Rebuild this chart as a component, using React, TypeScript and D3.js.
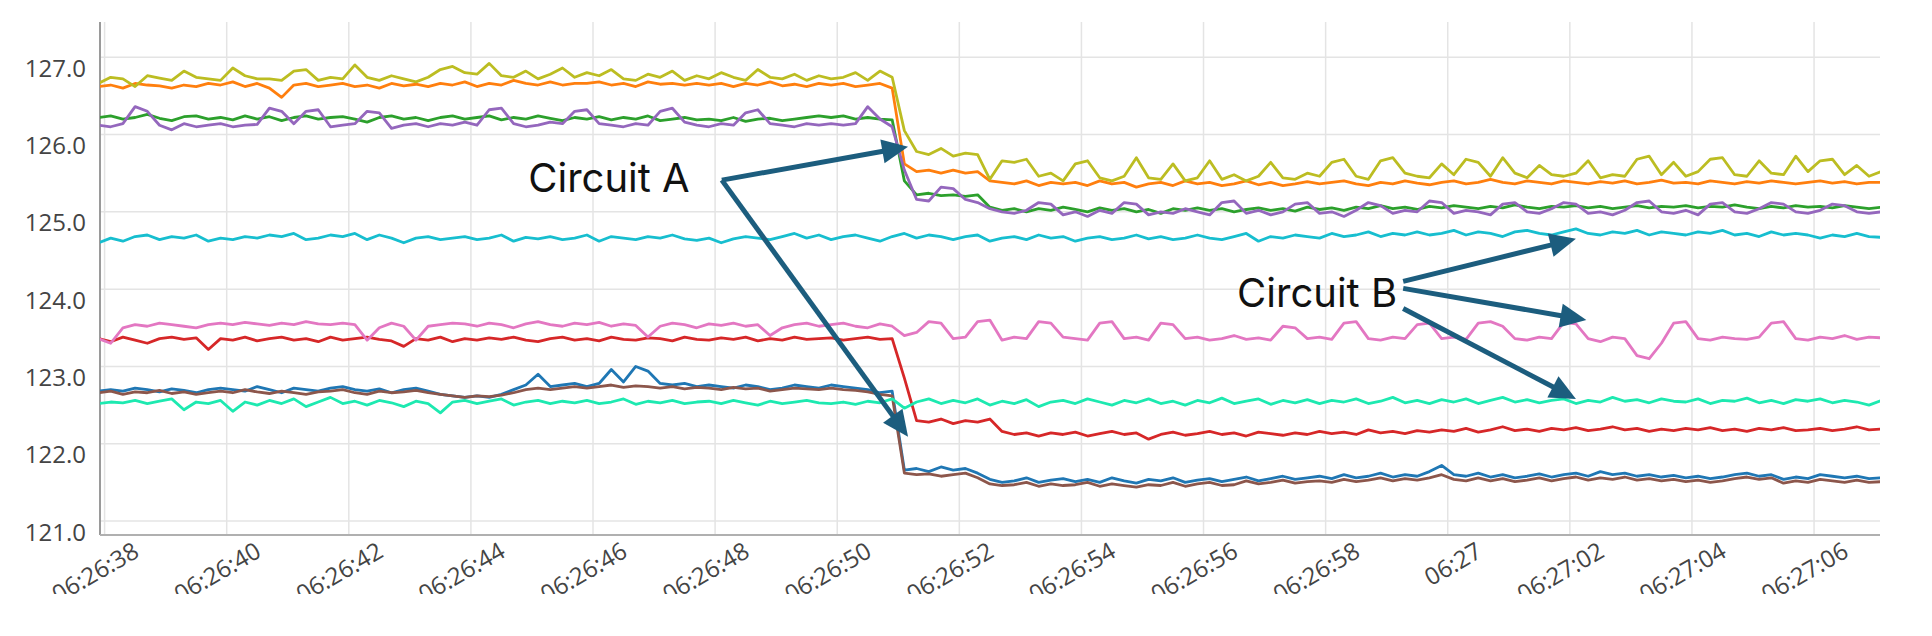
import React from 'react';
import * as d3 from 'd3';

// sample grid: seconds after 06:26:00, one reading every 0.2 s
const SAMPLE_START = 37.9;
const SAMPLE_STEP = 0.2;

const olive = [
  126.66,126.74,126.72,126.62,126.76,126.73,126.70,126.82,126.74,126.72,
  126.70,126.86,126.76,126.72,126.72,126.70,126.82,126.84,126.70,126.74,
  126.72,126.90,126.74,126.70,126.76,126.72,126.68,126.74,126.84,126.88,
  126.80,126.78,126.92,126.76,126.74,126.82,126.72,126.78,126.86,126.74,
  126.80,126.76,126.84,126.72,126.70,126.78,126.74,126.82,126.70,126.76,
  126.72,126.80,126.74,126.70,126.84,126.74,126.72,126.78,126.70,126.76,
  126.72,126.74,126.80,126.70,126.82,126.74,126.05,125.78,125.74,125.82,
  125.72,125.76,125.74,125.42,125.66,125.64,125.68,125.46,125.50,125.40,
  125.62,125.66,125.44,125.40,125.46,125.70,125.44,125.42,125.62,125.40,
  125.44,125.66,125.42,125.48,125.40,125.46,125.64,125.44,125.42,125.50,
  125.46,125.64,125.68,125.46,125.42,125.66,125.70,125.50,125.46,125.44,
  125.62,125.48,125.68,125.64,125.46,125.70,125.50,125.44,125.60,125.48,
  125.46,125.50,125.66,125.44,125.48,125.46,125.68,125.72,125.48,125.64,
  125.46,125.52,125.68,125.70,125.48,125.46,125.66,125.50,125.48,125.72,
  125.52,125.66,125.68,125.48,125.60,125.46,125.52,
];

const orange = [
  126.62,126.64,126.60,126.66,126.64,126.63,126.60,126.64,126.62,126.66,
  126.64,126.68,126.62,126.66,126.60,126.48,126.64,126.66,126.62,126.64,
  126.66,126.62,126.64,126.60,126.66,126.63,126.65,126.62,126.66,126.64,
  126.68,126.62,126.66,126.64,126.70,126.66,126.64,126.68,126.64,126.66,
  126.66,126.68,126.64,126.66,126.62,126.68,126.65,126.66,126.64,126.66,
  126.64,126.66,126.62,126.66,126.64,126.68,126.63,126.65,126.62,126.66,
  126.64,126.66,126.62,126.64,126.66,126.60,125.62,125.52,125.54,125.50,
  125.54,125.50,125.52,125.40,125.38,125.36,125.40,125.34,125.38,125.36,
  125.38,125.34,125.40,125.36,125.38,125.32,125.36,125.38,125.34,125.40,
  125.36,125.38,125.34,125.36,125.40,125.35,125.38,125.34,125.36,125.39,
  125.36,125.38,125.40,125.36,125.34,125.38,125.36,125.40,125.37,125.35,
  125.38,125.40,125.36,125.38,125.42,125.38,125.36,125.40,125.38,125.36,
  125.40,125.38,125.36,125.39,125.37,125.40,125.36,125.38,125.41,125.37,
  125.38,125.36,125.40,125.38,125.36,125.39,125.37,125.40,125.38,125.36,
  125.38,125.40,125.37,125.39,125.36,125.38,125.38,
];

const green = [
  126.22,126.24,126.20,126.22,126.26,126.21,126.18,126.23,126.24,126.20,
  126.22,126.19,126.24,126.20,126.23,126.18,126.22,126.24,126.20,126.22,
  126.23,126.20,126.16,126.22,126.24,126.20,126.22,126.18,126.22,126.24,
  126.20,126.22,126.24,126.19,126.22,126.20,126.24,126.21,126.18,126.22,
  126.20,126.23,126.19,126.22,126.20,126.24,126.18,126.20,126.22,126.19,
  126.20,126.18,126.22,126.17,126.20,126.21,126.18,126.20,126.22,126.24,
  126.22,126.24,126.20,126.22,126.20,126.19,125.40,125.22,125.24,125.21,
  125.22,125.20,125.22,125.06,125.02,125.04,125.00,125.04,125.02,125.06,
  125.03,125.00,125.05,125.02,125.04,125.00,125.03,124.98,125.04,125.02,
  125.05,125.02,125.04,125.00,125.03,125.05,125.02,125.04,125.01,125.06,
  125.03,125.05,125.02,125.06,125.04,125.08,125.04,125.06,125.03,125.07,
  125.05,125.08,125.06,125.04,125.07,125.05,125.09,125.06,125.04,125.07,
  125.06,125.08,125.05,125.07,125.04,125.06,125.08,125.05,125.07,125.06,
  125.08,125.05,125.07,125.06,125.09,125.06,125.04,125.07,125.05,125.08,
  125.06,125.07,125.05,125.08,125.06,125.04,125.06,
];

const purple = [
  126.12,126.10,126.14,126.36,126.30,126.12,126.06,126.14,126.10,126.12,
  126.14,126.10,126.12,126.13,126.34,126.30,126.14,126.30,126.32,126.10,
  126.12,126.14,126.30,126.28,126.08,126.12,126.14,126.10,126.14,126.12,
  126.16,126.12,126.32,126.34,126.14,126.10,126.12,126.16,126.14,126.30,
  126.32,126.14,126.12,126.10,126.14,126.12,126.30,126.34,126.16,126.12,
  126.10,126.14,126.12,126.28,126.32,126.14,126.12,126.10,126.14,126.12,
  126.14,126.12,126.14,126.36,126.20,126.10,125.54,125.16,125.14,125.32,
  125.30,125.16,125.12,125.04,125.00,124.98,125.02,125.12,125.10,124.96,
  125.00,124.94,125.02,124.98,125.12,125.10,124.96,125.00,124.98,125.04,
  125.00,124.96,125.12,125.14,124.98,125.02,124.96,125.00,125.10,125.12,
  124.98,125.00,124.94,125.02,125.12,125.08,124.98,125.02,125.00,125.14,
  125.12,124.98,125.02,125.00,124.96,125.10,125.12,125.00,124.98,125.04,
  125.12,125.10,124.98,125.00,124.96,125.02,125.12,125.14,125.00,124.98,
  125.02,124.96,125.10,125.12,125.00,124.98,125.04,125.12,125.10,125.00,
  124.98,125.02,125.10,125.08,125.00,124.98,125.00,
];

const cyan = [
  124.60,124.66,124.62,124.68,124.70,124.64,124.68,124.66,124.70,124.62,
  124.66,124.64,124.68,124.66,124.70,124.68,124.72,124.64,124.66,124.70,
  124.68,124.72,124.64,124.70,124.66,124.60,124.66,124.68,124.64,124.66,
  124.68,124.64,124.66,124.70,124.62,124.67,124.65,124.68,124.64,124.66,
  124.70,124.62,124.68,124.66,124.64,124.68,124.66,124.70,124.65,124.63,
  124.66,124.60,124.65,124.68,124.66,124.64,124.68,124.72,124.66,124.70,
  124.64,124.68,124.70,124.66,124.62,124.68,124.72,124.66,124.70,124.68,
  124.64,124.68,124.70,124.62,124.66,124.68,124.64,124.70,124.66,124.68,
  124.62,124.66,124.68,124.64,124.66,124.70,124.65,124.68,124.64,124.66,
  124.70,124.66,124.64,124.68,124.72,124.62,124.68,124.66,124.70,124.68,
  124.66,124.72,124.68,124.70,124.74,124.68,124.72,124.70,124.74,124.70,
  124.72,124.76,124.70,124.74,124.72,124.68,124.74,124.76,124.72,124.70,
  124.74,124.78,124.72,124.70,124.74,124.72,124.76,124.70,124.74,124.72,
  124.70,124.74,124.72,124.76,124.70,124.72,124.68,124.74,124.70,124.72,
  124.70,124.66,124.70,124.68,124.72,124.68,124.67,
];

const pink = [
  123.36,123.30,123.50,123.54,123.52,123.56,123.54,123.52,123.50,123.54,
  123.56,123.54,123.57,123.55,123.53,123.56,123.54,123.58,123.55,123.54,
  123.56,123.54,123.34,123.50,123.56,123.52,123.34,123.52,123.54,123.56,
  123.55,123.52,123.56,123.54,123.50,123.55,123.58,123.54,123.52,123.56,
  123.54,123.57,123.52,123.55,123.53,123.38,123.52,123.56,123.54,123.50,
  123.55,123.53,123.56,123.52,123.54,123.40,123.50,123.54,123.56,123.52,
  123.54,123.56,123.52,123.50,123.55,123.52,123.40,123.44,123.58,123.56,
  123.36,123.38,123.58,123.60,123.34,123.38,123.36,123.58,123.56,123.38,
  123.36,123.34,123.56,123.58,123.36,123.38,123.34,123.56,123.54,123.36,
  123.38,123.34,123.36,123.40,123.35,123.37,123.34,123.52,123.50,123.36,
  123.38,123.35,123.56,123.58,123.36,123.34,123.38,123.36,123.54,123.56,
  123.36,123.38,123.35,123.56,123.58,123.52,123.36,123.34,123.38,123.36,
  123.57,123.55,123.36,123.32,123.38,123.36,123.14,123.10,123.30,123.56,
  123.58,123.36,123.34,123.38,123.36,123.35,123.38,123.56,123.58,123.36,
  123.34,123.38,123.36,123.40,123.35,123.38,123.37,
];

const red = [
  123.36,123.32,123.38,123.34,123.30,123.36,123.38,123.35,123.37,123.22,
  123.36,123.34,123.38,123.33,123.36,123.38,123.34,123.36,123.32,123.38,
  123.34,123.36,123.38,123.35,123.33,123.26,123.36,123.34,123.38,123.32,
  123.36,123.34,123.37,123.35,123.38,123.34,123.32,123.36,123.38,123.34,
  123.36,123.33,123.38,123.35,123.34,123.37,123.36,123.33,123.38,123.35,
  123.34,123.37,123.35,123.38,123.33,123.36,123.34,123.38,123.35,123.36,
  123.37,123.34,123.36,123.38,123.35,123.36,122.85,122.30,122.28,122.32,
  122.26,122.30,122.28,122.32,122.16,122.12,122.14,122.10,122.14,122.12,
  122.15,122.10,122.13,122.16,122.12,122.14,122.06,122.12,122.15,122.11,
  122.13,122.16,122.12,122.14,122.10,122.15,122.13,122.11,122.14,122.12,
  122.16,122.13,122.15,122.12,122.18,122.14,122.16,122.13,122.17,122.15,
  122.18,122.16,122.20,122.15,122.18,122.22,122.17,122.19,122.16,122.20,
  122.18,122.21,122.17,122.19,122.22,122.18,122.20,122.16,122.19,122.17,
  122.20,122.18,122.21,122.17,122.19,122.16,122.20,122.18,122.21,122.17,
  122.18,122.20,122.17,122.19,122.22,122.18,122.19,
];

const blue = [
  122.68,122.70,122.68,122.72,122.70,122.67,122.71,122.69,122.66,122.70,
  122.72,122.70,122.68,122.74,122.70,122.66,122.72,122.70,122.68,122.72,
  122.74,122.70,122.68,122.71,122.66,122.70,122.72,122.68,122.64,122.62,
  122.60,122.62,122.60,122.64,122.70,122.76,122.90,122.74,122.76,122.78,
  122.74,122.78,122.96,122.80,123.00,122.94,122.78,122.76,122.78,122.74,
  122.76,122.74,122.72,122.76,122.74,122.70,122.72,122.76,122.74,122.72,
  122.76,122.74,122.72,122.70,122.66,122.68,121.66,121.68,121.64,121.70,
  121.66,121.68,121.62,121.54,121.50,121.52,121.56,121.50,121.53,121.55,
  121.51,121.54,121.50,121.56,121.52,121.49,121.54,121.52,121.56,121.50,
  121.53,121.55,121.51,121.54,121.57,121.52,121.55,121.58,121.54,121.56,
  121.58,121.55,121.60,121.56,121.58,121.62,121.57,121.60,121.58,121.64,
  121.72,121.60,121.58,121.62,121.57,121.60,121.56,121.58,121.61,121.57,
  121.60,121.62,121.58,121.64,121.60,121.62,121.58,121.60,121.57,121.59,
  121.56,121.58,121.55,121.57,121.60,121.62,121.58,121.60,121.54,121.57,
  121.55,121.60,121.58,121.56,121.58,121.55,121.56,
];

const brown = [
  122.66,122.68,122.64,122.67,122.66,122.69,122.65,122.67,122.64,122.66,
  122.68,122.66,122.70,122.67,122.65,122.68,122.66,122.64,122.67,122.68,
  122.70,122.66,122.64,122.68,122.66,122.67,122.69,122.66,122.64,122.62,
  122.60,122.62,122.61,122.63,122.66,122.70,122.72,122.70,122.72,122.74,
  122.72,122.74,122.76,122.73,122.75,122.74,122.72,122.74,122.71,122.73,
  122.72,122.70,122.73,122.71,122.72,122.68,122.70,122.72,122.71,122.70,
  122.72,122.70,122.69,122.67,122.64,122.62,121.62,121.60,121.61,121.58,
  121.60,121.62,121.56,121.48,121.46,121.47,121.50,121.45,121.48,121.46,
  121.47,121.50,121.45,121.48,121.46,121.44,121.47,121.46,121.50,121.45,
  121.48,121.50,121.46,121.47,121.52,121.48,121.50,121.53,121.49,121.51,
  121.52,121.50,121.54,121.51,121.53,121.56,121.52,121.55,121.53,121.56,
  121.60,121.54,121.52,121.56,121.52,121.55,121.51,121.53,121.56,121.52,
  121.55,121.57,121.53,121.56,121.54,121.57,121.53,121.55,121.52,121.54,
  121.51,121.53,121.50,121.52,121.55,121.57,121.54,121.56,121.49,121.52,
  121.50,121.54,121.52,121.50,121.53,121.50,121.51,
];

const mint = [
  122.52,122.54,122.53,122.56,122.52,122.55,122.58,122.44,122.54,122.52,
  122.56,122.42,122.54,122.50,122.56,122.52,122.58,122.48,122.54,122.60,
  122.52,122.55,122.50,122.56,122.53,122.48,122.55,122.52,122.40,122.54,
  122.56,122.52,122.55,122.58,122.50,122.54,122.56,122.52,122.55,122.53,
  122.56,122.52,122.54,122.58,122.51,122.55,122.53,122.56,122.52,122.54,
  122.55,122.52,122.56,122.53,122.50,122.55,122.52,122.54,122.56,122.53,
  122.52,122.54,122.51,122.55,122.53,122.58,122.46,122.54,122.58,122.52,
  122.56,122.53,122.58,122.50,122.55,122.52,122.57,122.48,122.54,122.56,
  122.52,122.58,122.54,122.50,122.56,122.53,122.58,122.52,122.55,122.50,
  122.56,122.53,122.59,122.52,122.55,122.58,122.51,122.56,122.53,122.57,
  122.52,122.56,122.54,122.58,122.52,122.55,122.60,122.53,122.56,122.52,
  122.57,122.54,122.58,122.52,122.56,122.60,122.54,122.57,122.53,122.56,
  122.58,122.52,122.56,122.54,122.60,122.55,122.57,122.53,122.58,122.55,
  122.54,122.58,122.52,122.56,122.55,122.59,122.53,122.56,122.52,122.57,
  122.55,122.58,122.53,122.56,122.54,122.50,122.56,
];

// draw order follows the source chart
const series = [
  { name: 'blue', color: '#1f77b4', values: blue },
  { name: 'orange', color: '#ff7f0e', values: orange },
  { name: 'green', color: '#2ca02c', values: green },
  { name: 'red', color: '#d62728', values: red },
  { name: 'purple', color: '#9467bd', values: purple },
  { name: 'brown', color: '#8c564b', values: brown },
  { name: 'pink', color: '#e377c2', values: pink },
  { name: 'olive', color: '#bcbd22', values: olive },
  { name: 'cyan', color: '#17becf', values: cyan },
  { name: 'mint', color: '#1de9b0', values: mint },
];

const yTicks = [121, 122, 123, 124, 125, 126, 127];

// annotations in data space: [seconds, value]
const labelA = { text: 'Circuit A', at: [44.94, 125.25] };
const arrowsA = [
  { from: [48.11, 125.41], to: [51.16, 125.84] },
  { from: [48.11, 125.41], to: [51.16, 122.09] },
];
const labelB = { text: 'Circuit B', at: [56.55, 123.77] };
const arrowsB = [
  { from: [59.27, 124.10], to: [62.10, 124.65] },
  { from: [59.27, 124.01], to: [62.27, 123.60] },
  { from: [59.27, 123.75], to: [62.10, 122.58] },
];

const base = new Date(2024, 0, 1, 6, 26, 0).getTime();
const toDate = (s: number) => new Date(base + s * 1000);

const W = 1932;
const H = 636;
const left = 100;
const right = 1880;
const top = 22;
const bottom = 535;

const App = () => {
  const x = d3.scaleTime().domain([toDate(37.925), toDate(67.08)]).range([left, right]);
  const y = d3.scaleLinear().domain([120.82, 127.455]).range([bottom, top]);

  const xTicks = x.ticks(d3.timeSecond.every(2) as any);
  const fmtS = d3.timeFormat('%H:%M:%S');
  const fmtM = d3.timeFormat('%H:%M');
  const fmt = (d: Date) => (d.getSeconds() === 0 ? fmtM(d) : fmtS(d));

  const line = d3
    .line<number>()
    .x((_, i) => x(toDate(SAMPLE_START + SAMPLE_STEP * i)))
    .y((v) => y(v));

  const arrowColor = '#1c5d7e';
  const arrow = (a: { from: number[]; to: number[] }, k: string) => {
    const x1 = x(toDate(a.from[0]));
    const y1 = y(a.from[1]);
    const x2 = x(toDate(a.to[0]));
    const y2 = y(a.to[1]);
    const ang = Math.atan2(y2 - y1, x2 - x1);
    const hl = 26;
    const hw = 12;
    const bx = x2 - hl * Math.cos(ang);
    const by = y2 - hl * Math.sin(ang);
    const px = -Math.sin(ang) * hw;
    const py = Math.cos(ang) * hw;
    return (
      <g key={k}>
        <line x1={x1} y1={y1} x2={bx + 2 * Math.cos(ang)} y2={by + 2 * Math.sin(ang)} stroke={arrowColor} strokeWidth={5} />
        <polygon points={`${x2},${y2} ${bx + px},${by + py} ${bx - px},${by - py}`} fill={arrowColor} />
      </g>
    );
  };

  return (
    <svg width={W} height={H} style={{ position: 'absolute', left: 0, top: 0 }} fontFamily="'Open Sans', sans-serif">
      <defs>
        <clipPath id="plot">
          <rect x={left} y={top} width={right - left} height={bottom - top} />
        </clipPath>
        <clipPath id="page">
          <rect x={0} y={0} width={W} height={594} />
        </clipPath>
      </defs>
      <rect width={W} height={H} fill="#fff" />

      {/* grid */}
      {yTicks.map((t) => (
        <line key={'gy' + t} x1={left} x2={right} y1={y(t)} y2={y(t)} stroke="#e4e4e4" strokeWidth={1.5} />
      ))}
      {xTicks.map((t) => (
        <line key={'gx' + t.getTime()} x1={x(t)} x2={x(t)} y1={top} y2={bottom} stroke="#e4e4e4" strokeWidth={1.5} />
      ))}

      {/* axes */}
      <line x1={left} x2={left} y1={top} y2={bottom} stroke="#9a9a9a" strokeWidth={2} />
      <line x1={left} x2={right} y1={bottom} y2={bottom} stroke="#b0b0b0" strokeWidth={2} />

      {yTicks.map((t) => (
        <text key={'ty' + t} x={86} y={y(t) + 19.5} textAnchor="end" fontSize={24} fill="#444">
          {t.toFixed(1)}
        </text>
      ))}
      <g clipPath="url(#page)">
        {xTicks.map((t) => (
          <text
            key={'tx' + t.getTime()}
            transform={`translate(${x(t) + 36},${556}) rotate(-30)`}
            textAnchor="end"
            fontSize={24}
            fill="#444"
          >
            {fmt(t)}
          </text>
        ))}
      </g>

      {/* series */}
      <g clipPath="url(#plot)">
        {series.map((s) => (
          <path key={s.name} d={line(s.values) || ''} fill="none" stroke={s.color} strokeWidth={2.8} strokeLinejoin="round" />
        ))}
      </g>

      {/* annotations */}
      <text x={x(toDate(labelA.at[0]))} y={y(labelA.at[1])} fontSize={40} fontFamily="Inter, sans-serif" fill="#111">
        {labelA.text}
      </text>
      {arrowsA.map((a, i) => arrow(a, 'a' + i))}
      <text x={x(toDate(labelB.at[0]))} y={y(labelB.at[1])} fontSize={40} fontFamily="Inter, sans-serif" fill="#111">
        {labelB.text}
      </text>
      {arrowsB.map((a, i) => arrow(a, 'b' + i))}
    </svg>
  );
};

export default App;
